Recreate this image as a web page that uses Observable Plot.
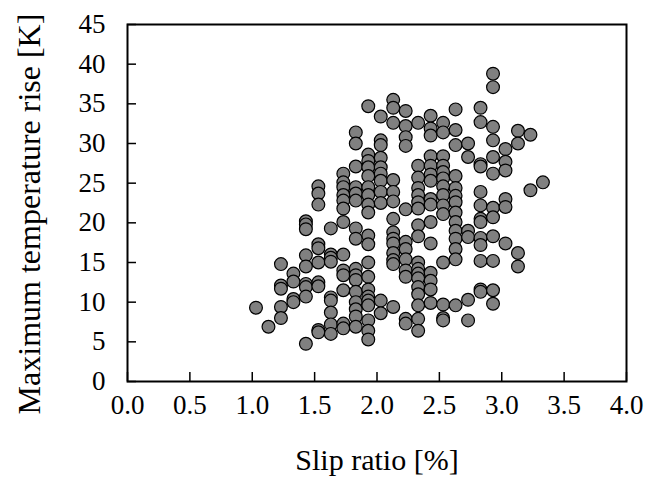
<!DOCTYPE html>
<html>
<head>
<meta charset="utf-8">
<script src="https://cdn.jsdelivr.net/npm/d3@7"></script>
<script src="https://cdn.jsdelivr.net/npm/@observablehq/plot@0.6"></script>
<style>
  html, body { margin: 0; padding: 0; background: white; }
  #chart svg { display: block; }
</style>
</head>
<body>
<div id="chart"></div>
<script>
// Slip ratio columns [%]
const slipColumns = [1.03, 1.13, 1.23, 1.33, 1.43, 1.53, 1.63, 1.73, 1.83, 1.93, 2.03, 2.13,
                     2.23, 2.33, 2.43, 2.53, 2.63, 2.73, 2.83, 2.93, 3.03, 3.13, 3.23, 3.33];
// Maximum temperature rise [K] for each slip-ratio column
const tempByColumn = [
  [9.3],
  [6.9],
  [14.8, 12.1, 11.7, 9.4, 8.0],
  [13.6, 12.6, 10.4, 10.0],
  [20.2, 19.8, 19.2, 15.9, 14.5, 12.3, 11.9, 10.7, 4.75],
  [24.6, 23.7, 22.3, 17.3, 16.8, 15.0, 12.5, 12.0, 6.5, 6.2],
  [19.3, 16.0, 15.6, 15.1, 10.6, 10.2, 8.7, 7.2, 6.0],
  [26.2, 25.1, 24.5, 23.5, 22.8, 21.8, 20.1, 16.0, 14.0, 13.4, 11.5, 7.3, 6.7],
  [31.4, 30.0, 27.1, 24.5, 23.7, 22.8, 19.3, 18.0, 14.2, 13.4, 12.8, 11.3, 10.0, 9.1, 8.2, 6.9],
  [34.7, 28.6, 27.8, 27.0, 25.9, 24.5, 23.5, 22.3, 21.3, 18.4, 17.3, 15.0, 13.2, 11.6, 10.7, 10.2, 9.6, 7.7, 6.4, 5.3],
  [33.4, 30.4, 29.8, 28.2, 27.0, 26.2, 25.3, 23.9, 22.5, 10.2, 8.6],
  [35.5, 34.5, 32.6, 25.4, 23.9, 22.7, 20.5, 18.8, 18.0, 17.4, 16.2, 15.3, 14.8, 9.4],
  [34.1, 32.2, 30.8, 29.7, 21.7, 17.6, 16.7, 15.4, 14.0, 13.2, 7.9, 7.3],
  [32.6, 27.2, 25.7, 24.4, 23.5, 22.6, 21.8, 19.7, 18.3, 15.0, 14.2, 13.6, 13.0, 11.9, 11.0, 9.6, 7.9, 6.4],
  [33.5, 31.9, 31.0, 28.4, 27.2, 26.1, 25.3, 23.0, 22.3, 20.1, 17.4, 13.7, 12.7, 11.6, 9.9],
  [32.6, 31.4, 28.4, 27.2, 26.4, 25.6, 24.6, 23.5, 22.2, 21.1, 15.0, 9.7, 8.0, 7.7],
  [34.3, 31.7, 29.8, 25.9, 24.4, 23.4, 22.6, 21.3, 20.1, 19.0, 18.0, 16.7, 15.4, 9.6],
  [30.0, 28.3, 19.0, 18.2, 10.3, 7.7],
  [34.5, 32.7, 27.4, 27.1, 23.9, 22.2, 20.5, 20.1, 18.1, 17.2, 15.2, 11.6, 11.3],
  [38.8, 37.1, 32.1, 30.4, 28.3, 26.2, 21.9, 20.7, 18.3, 15.2, 11.5, 9.8],
  [29.3, 27.7, 26.6, 23.0, 22.0, 17.4],
  [31.6, 30.0, 16.2, 14.5],
  [31.1, 24.1],
  [25.1]
];
const xTicks = [0, 0.5, 1.0, 1.5, 2.0, 2.5, 3.0, 3.5, 4.0];
const yTicks = [0, 5, 10, 15, 20, 25, 30, 35, 40, 45];
const xTitle = "Slip ratio [%]";
const yTitle = "Maximum temperature rise [K]";

const points = slipColumns.flatMap((s, i) => tempByColumn[i].map(t => ({slip: s, temp: t})));

const W = 646, H = 477;
const mL = 127, mR = 20, mT = 24, mB = 96;
const innerW = W - mL - mR, innerH = H - mT - mB;
const tickLen = 9;

const chart = Plot.plot({
  width: W,
  height: H,
  marginLeft: mL,
  marginRight: mR,
  marginTop: mT,
  marginBottom: mB,
  style: {fontFamily: "'Liberation Serif', 'Times New Roman', serif", fontSize: "27px", color: "black", background: "white"},
  x: {domain: [0, 4], axis: null},
  y: {domain: [0, 45], axis: null},
  marks: [
    Plot.dot(points, {x: "slip", y: "temp", r: 6.4, fill: "#808080", stroke: "black", strokeWidth: 1.2}),
    Plot.tickX(xTicks, {x: d => d, insetTop: innerH - tickLen, stroke: "black", strokeWidth: 1.5}),
    Plot.tickY(yTicks, {y: d => d, insetRight: innerW - tickLen, stroke: "black", strokeWidth: 1.5}),
    Plot.frame({stroke: "black", strokeWidth: 2}),
    Plot.text(xTicks, {x: d => d, text: d => d.toFixed(1), frameAnchor: "bottom", lineAnchor: "top", dy: 13, fontSize: 27, fill: "black"}),
    Plot.text(yTicks, {y: d => d, text: d => String(d), frameAnchor: "left", textAnchor: "end", dx: -22, fontSize: 27, fill: "black"}),
    Plot.text([xTitle], {text: d => d, frameAnchor: "bottom", textAnchor: "middle", lineAnchor: "bottom", dy: 88, fontSize: 30, fill: "black"}),
    Plot.text([yTitle], {text: d => d, frameAnchor: "left", textAnchor: "middle", lineAnchor: "middle", rotate: -90, dx: -98, dy: 11, fontSize: 32, fill: "black"})
  ]
});
document.getElementById("chart").appendChild(chart);
</script>
</body>
</html>
